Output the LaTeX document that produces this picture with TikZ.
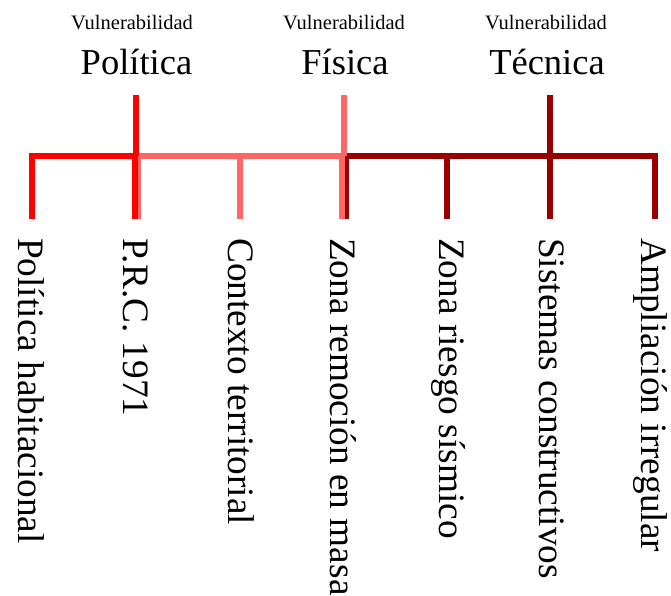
\documentclass[tikz,border=0pt]{standalone}
\usepackage{fontspec}
\setmainfont{Liberation Serif}
\definecolor{polred}{HTML}{FF0000}
\definecolor{fisred}{HTML}{FF6666}
\definecolor{tecred}{HTML}{990000}
\begin{document}
\begin{tikzpicture}[x=1pt,y=-1pt,
  bar/.style={line width=6pt,line join=miter,line cap=butt},
  small/.style={inner sep=0pt,anchor=base,font=\fontsize{20.5}{22}\selectfont},
  big/.style={inner sep=0pt,anchor=base,font=\fontsize{36.5}{40}\selectfont},
  leaf/.style={inner sep=0pt,anchor=west,rotate=-90,font=\fontsize{37.3}{40}\selectfont}]
\useasboundingbox (0,0) rectangle (671,595);
% titles
\node[small] (v1) at (132,29) {Vulnerabilidad};
\node[small] (v2) at (344,29) {Vulnerabilidad};
\node[small] (v3) at (546,29) {Vulnerabilidad};
\node[big] (t1) at (136.5,74) {Política};
\node[big] (t2) at (345,74) {Física};
\node[big] (t3) at (547,74) {Técnica};
% connector points
\coordinate (s1) at (135.5,95);
\coordinate (s2) at (344,95);
\coordinate (s3) at (550,95);
\coordinate (j1) at (135.5,156);
\coordinate (j2) at (344,156);
\coordinate (j3) at (550,156);
% leaves
\node[leaf] (l1) at (31,238) {Política habitacional};
\node[leaf] (l2) at (136,238) {P.R.C. 1971};
\node[leaf] (l3) at (241,238) {Contexto territorial};
\node[leaf] (l4) at (343.5,238) {Zona remoción en masa};
\node[leaf] (l5) at (448,238) {Zona riesgo sísmico};
\node[leaf] (l6) at (551.5,238) {Sistemas constructivos};
\node[leaf] (l7) at (650.5,238) {Ampliación irregular};
% leaf tops
\coordinate (b1) at (32,219);
\coordinate (b2a) at (134.5,219);
\coordinate (b2b) at (137.5,219);
\coordinate (b3) at (239.5,219);
\coordinate (b4a) at (342,219);
\coordinate (b4b) at (345.5,219);
\coordinate (b5) at (447,219);
\coordinate (b6) at (550,219);
\coordinate (b7) at (655,219);
% dark red group
\draw[bar,tecred] (b4b) -- (b4b |- j3) -- (b7 |- j3) -- (b7);
\draw[bar,tecred] (b5 |- j3) -- (b5);
\draw[bar,tecred] (s3) -- (b6);
% pink group
\draw[bar,fisred] (b2b) -- (b2b |- j2) -- (b4a |- j2) -- (b4a);
\draw[bar,fisred] (b3 |- j2) -- (b3);
\draw[bar,fisred] (s2) -- (j2);
% red group
\draw[bar,polred] (b1) -- (b1 |- j1) -- (b2a |- j1) -- (b2a);
\draw[bar,polred] (s1) -- (j1);
\end{tikzpicture}
\end{document}
